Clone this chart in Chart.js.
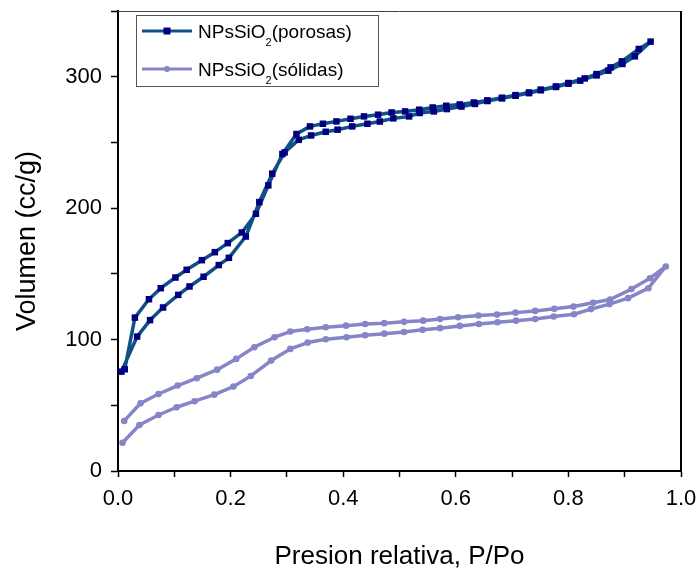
<!DOCTYPE html>
<html>
<head>
<meta charset="utf-8">
<script src="https://cdn.jsdelivr.net/npm/chart.js@4.4.1/dist/chart.umd.min.js"></script>
<style>
  html, body { margin: 0; padding: 0; background: #ffffff; }
  #wrap { width: 699px; height: 568px; position: relative; overflow: hidden; }
</style>
</head>
<body>
<div id="wrap"><canvas id="c" width="699" height="568"></canvas></div>
<script>
// ---- Data (P/Po, volume cc/g) ----
const porosasAdsP = [0.006, 0.034, 0.057, 0.080, 0.107, 0.127, 0.152, 0.179, 0.197, 0.227, 0.251, 0.274, 0.296, 0.321, 0.343, 0.369, 0.390, 0.416, 0.443, 0.465, 0.489, 0.517, 0.536, 0.561, 0.584, 0.610, 0.634, 0.656, 0.682, 0.706, 0.730, 0.751, 0.778, 0.800, 0.821, 0.850, 0.871, 0.896, 0.918, 0.946];
const porosasAdsV = [75.6, 102.3, 114.8, 124.4, 134.0, 140.4, 147.8, 156.7, 162.2, 178.4, 204.6, 226.2, 242.4, 252.0, 255.3, 258.1, 259.7, 262.2, 264.2, 265.9, 268.3, 269.8, 272.4, 273.6, 275.4, 277.3, 279.3, 281.5, 283.5, 285.5, 287.5, 289.7, 292.2, 294.7, 297.0, 301.0, 304.6, 309.7, 315.5, 326.7];
const porosasDesP = [0.925, 0.895, 0.875, 0.850, 0.829, 0.800, 0.778, 0.751, 0.730, 0.706, 0.682, 0.656, 0.632, 0.607, 0.583, 0.559, 0.535, 0.510, 0.486, 0.462, 0.437, 0.413, 0.388, 0.364, 0.341, 0.317, 0.292, 0.267, 0.245, 0.220, 0.195, 0.172, 0.149, 0.122, 0.102, 0.076, 0.055, 0.030, 0.012];
const porosasDesV = [321.1, 311.7, 307.1, 302.0, 298.7, 295.2, 292.6, 290.2, 288.0, 286.0, 284.0, 282.0, 280.4, 278.9, 277.9, 276.6, 274.9, 273.6, 272.8, 271.1, 269.8, 268.0, 266.0, 264.2, 262.2, 256.4, 241.2, 217.3, 195.7, 181.5, 173.4, 166.5, 160.4, 153.1, 147.2, 139.1, 130.7, 116.7, 77.4];

const solidasAdsP = [0.008, 0.038, 0.072, 0.104, 0.136, 0.171, 0.205, 0.236, 0.272, 0.306, 0.337, 0.369, 0.406, 0.439, 0.473, 0.508, 0.541, 0.572, 0.607, 0.641, 0.674, 0.707, 0.741, 0.774, 0.810, 0.840, 0.873, 0.906, 0.942, 0.973];
const solidasAdsV = [21.5, 35.0, 42.6, 48.5, 53.1, 58.1, 64.2, 72.3, 84.0, 92.9, 97.7, 100.3, 101.8, 103.3, 104.5, 105.8, 107.4, 108.7, 110.4, 111.9, 113.2, 114.4, 115.7, 117.5, 119.3, 123.2, 127.0, 131.5, 139.1, 155.6];
const solidasDesP = [0.945, 0.912, 0.874, 0.844, 0.809, 0.775, 0.741, 0.706, 0.673, 0.640, 0.604, 0.572, 0.542, 0.508, 0.473, 0.439, 0.405, 0.369, 0.336, 0.306, 0.278, 0.242, 0.210, 0.176, 0.140, 0.106, 0.072, 0.040, 0.011];
const solidasDesV = [146.7, 138.4, 130.5, 128.0, 125.1, 123.4, 121.8, 120.5, 119.0, 118.3, 117.0, 115.7, 114.4, 113.5, 112.5, 111.9, 110.6, 109.4, 107.9, 106.1, 101.8, 94.2, 85.3, 77.1, 70.6, 65.0, 58.6, 51.5, 38.1];

const seriesLabels = ['NPsSiO\u2082(porosas)', 'NPsSiO\u2082(sólidas)'];
const legendParts = [['NPsSiO', '2', '(porosas)'], ['NPsSiO', '2', '(sólidas)']];
const xTitle = 'Presion relativa, P/Po';
const yTitle = 'Volumen (cc/g)';

function loop(aP, aV, dP, dV) {
  const out = [];
  aP.forEach((p, i) => out.push({ x: p, y: aV[i] }));
  dP.forEach((p, i) => out.push({ x: p, y: dV[i] }));
  return out;
}

const FONT = "'Liberation Sans', Arial, Helvetica, sans-serif";
const COL_P_LINE = '#0f5087';
const COL_P_PT = '#000080';
const COL_S = '#8585c8';

const frameAndLegend = {
  id: 'frameAndLegend',
  afterDraw(chart) {
    const ctx = chart.ctx;
    const a = chart.chartArea;
    ctx.save();
    // top and right frame
    ctx.strokeStyle = '#444';
    ctx.lineWidth = 1;
    ctx.beginPath();
    ctx.moveTo(a.left, a.top + 0.5);
    ctx.lineTo(a.right, a.top + 0.5);
    ctx.stroke();
    ctx.strokeStyle = '#000';
    ctx.lineWidth = 2;
    ctx.beginPath();
    ctx.moveTo(a.right, a.top);
    ctx.lineTo(a.right, a.bottom);
    ctx.stroke();

    // legend box
    const bx = 136.5, by = 15.5, bw = 242, bh = 71;
    ctx.fillStyle = '#fff';
    ctx.fillRect(bx, by, bw, bh);
    ctx.strokeStyle = '#555';
    ctx.lineWidth = 1;
    ctx.strokeRect(bx, by, bw, bh);

    const rows = [31, 69];
    chart.data.datasets.forEach((ds, i) => {
      const y = rows[i];
      ctx.strokeStyle = ds.borderColor;
      ctx.lineWidth = 3;
      ctx.beginPath();
      ctx.moveTo(142, y);
      ctx.lineTo(192, y);
      ctx.stroke();
      ctx.fillStyle = ds.pointBackgroundColor;
      if (ds.pointStyle === 'rect') {
        ctx.fillRect(163.5, y - 3.5, 7, 7);
      } else {
        ctx.beginPath();
        ctx.arc(167, y, 3, 0, Math.PI * 2);
        ctx.fill();
      }
      const parts = legendParts[i];
      ctx.fillStyle = '#000';
      ctx.textBaseline = 'alphabetic';
      ctx.textAlign = 'left';
      let x = 198;
      ctx.font = '19px ' + FONT;
      ctx.fillText(parts[0], x, y + 7);
      x += ctx.measureText(parts[0]).width;
      ctx.font = '11px ' + FONT;
      ctx.fillText(parts[1], x, y + 15);
      x += ctx.measureText(parts[1]).width;
      ctx.font = '19px ' + FONT;
      ctx.fillText(parts[2], x, y + 7);
    });
    ctx.restore();
  }
};

new Chart(document.getElementById('c'), {
  type: 'line',
  data: {
    datasets: [
      {
        label: seriesLabels[0],
        data: loop(porosasAdsP, porosasAdsV, porosasDesP, porosasDesV),
        borderColor: COL_P_LINE,
        borderWidth: 3.5,
        borderJoinStyle: 'round',
        borderCapStyle: 'round',
        pointStyle: 'rect',
        pointRadius: 4.6,
        pointBackgroundColor: COL_P_PT,
        pointBorderColor: COL_P_PT,
        pointBorderWidth: 0,
        tension: 0,
        fill: false
      },
      {
        label: seriesLabels[1],
        data: loop(solidasAdsP, solidasAdsV, solidasDesP, solidasDesV),
        borderColor: COL_S,
        borderWidth: 3.5,
        borderJoinStyle: 'round',
        borderCapStyle: 'round',
        pointStyle: 'circle',
        pointRadius: 3.3,
        pointBackgroundColor: COL_S,
        pointBorderColor: COL_S,
        pointBorderWidth: 0,
        tension: 0,
        fill: false
      }
    ]
  },
  options: {
    responsive: false,
    animation: false,
    devicePixelRatio: 1,
    clip: false,
    layout: { padding: { top: 11, right: 18, bottom: 0, left: 0 } },
    plugins: {
      legend: { display: false },
      tooltip: { enabled: false }
    },
    scales: {
      x: {
        type: 'linear',
        min: 0,
        max: 1,
        afterFit(scale) { scale.height = 97; scale.paddingLeft = 0; scale.paddingRight = 0; },
        border: { display: true, color: '#000', width: 2 },
        grid: { drawOnChartArea: false, drawTicks: true, tickLength: 6, tickColor: '#000', tickWidth: 1.5 },
        ticks: {
          stepSize: 0.1,
          color: '#000',
          padding: 9,
          maxRotation: 0,
          autoSkip: false,
          font: { family: FONT, size: 22 },
          callback: (v) => {
            const r = Math.round(v * 10);
            return r % 2 === 0 ? (r / 10).toFixed(1) : '';
          }
        },
        title: {
          display: true,
          text: xTitle,
          color: '#000',
          font: { family: FONT, size: 26, lineHeight: 1 },
          padding: { top: 0, bottom: -2 }
        }
      },
      y: {
        type: 'linear',
        min: 0,
        max: 350,
        afterFit(scale) { scale.width = 118; scale.paddingTop = 0; scale.paddingBottom = 0; },
        border: { display: true, color: '#000', width: 2 },
        grid: { drawOnChartArea: false, drawTicks: true, tickLength: 7, tickColor: '#000', tickWidth: 1.5 },
        ticks: {
          stepSize: 50,
          color: '#000',
          padding: 9,
          autoSkip: false,
          font: { family: FONT, size: 22 },
          callback: (v) => (Math.round(v) % 100 === 0 ? String(Math.round(v)) : '')
        },
        title: {
          display: true,
          text: yTitle,
          color: '#000',
          font: { family: FONT, size: 27, lineHeight: 1 },
          padding: { top: 14, bottom: 0 }
        }
      }
    }
  },
  plugins: [frameAndLegend]
});
</script>
</body>
</html>
